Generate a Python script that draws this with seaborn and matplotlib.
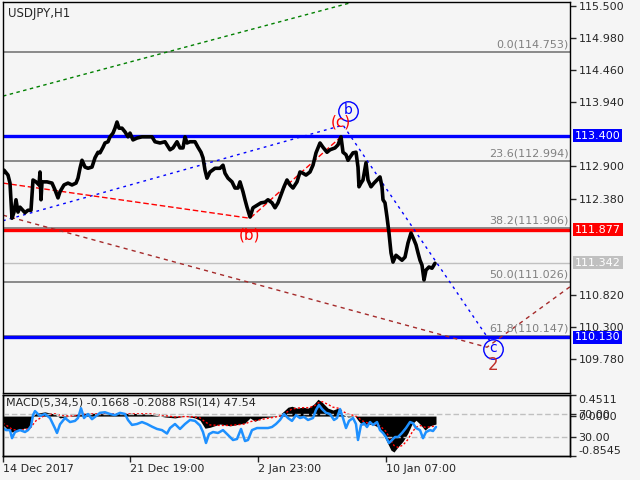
import numpy as np
import pandas as pd
import seaborn as sns
import matplotlib.pyplot as plt
from matplotlib import transforms

sns.set_style("white", {"axes.facecolor": "#f5f5f5", "figure.facecolor": "#f5f5f5",
                        "axes.edgecolor": "black"})
plt.rcParams['font.family'] = ['DejaVu Sans']

# price path (bar number, price)
price_bar = [3, 4, 8, 10, 12, 14, 16, 18, 20, 25, 28, 31, 33, 36, 39, 40, 41, 42, 47, 52,
             55, 58, 60, 64, 68, 72, 76, 78, 80, 82, 85, 88, 92, 95, 98, 100, 103, 105, 108, 110,
             113, 115, 117, 119, 122, 125, 128, 130, 133, 137, 142, 147, 152, 155, 160, 165, 170, 173, 177, 180,
             183, 185, 187, 190, 195, 198, 201, 203, 205, 207, 210, 215, 220, 223, 225, 228, 232, 235, 238, 240,
             243, 245, 247, 250, 253, 257, 261, 265, 268, 272, 275, 278, 281, 284, 287, 290, 293, 297, 300, 303,
             306, 310, 313, 316, 320, 323, 327, 330, 335, 338, 341, 343, 346, 348, 350, 353, 356, 358, 359, 361,
             363, 366, 368, 371, 374, 377, 380, 382, 383, 385, 387, 389, 391, 393, 396, 399, 402, 405, 408, 411,
             414, 416, 418, 420, 422, 424, 426, 429, 432, 435]
price = [112.79, 112.84, 112.76, 112.63, 112.06, 112.16, 112.36, 112.16, 112.24, 112.15, 112.19, 112.19, 112.68, 112.65, 112.60, 112.81, 112.36, 112.65, 112.65, 112.63,
         112.52, 112.39, 112.49, 112.60, 112.63, 112.60, 112.63, 112.71, 112.87, 113.00, 112.89, 112.87, 112.89, 113.04, 113.13, 113.12, 113.21, 113.28, 113.30, 113.38,
         113.44, 113.52, 113.62, 113.52, 113.52, 113.46, 113.38, 113.44, 113.33, 113.36, 113.38, 113.38, 113.38, 113.30, 113.28, 113.30, 113.17, 113.20, 113.30, 113.20,
         113.20, 113.38, 113.28, 113.30, 113.30, 113.21, 113.13, 113.04, 112.84, 112.71, 112.81, 112.87, 112.87, 112.92, 112.79, 112.71, 112.65, 112.55, 112.55, 112.65,
         112.49, 112.36, 112.24, 112.08, 112.23, 112.27, 112.31, 112.32, 112.36, 112.31, 112.23, 112.31, 112.44, 112.57, 112.68, 112.60, 112.55, 112.65, 112.81, 112.79,
         112.76, 112.81, 112.92, 113.12, 113.28, 113.21, 113.13, 113.17, 113.20, 113.25, 113.38, 113.13, 113.09, 113.00, 113.05, 113.12, 113.13, 112.89, 112.57, 112.63,
         112.68, 112.96, 112.68, 112.57, 112.63, 112.68, 112.73, 112.57, 112.36, 112.31, 112.08, 111.82, 111.50, 111.35, 111.46, 111.42, 111.38, 111.43, 111.66, 111.82,
         111.71, 111.63, 111.50, 111.38, 111.30, 111.06, 111.22, 111.27, 111.25, 111.33]

# drawn objects
green_bar = [3, 350]
green_px = [114.04, 115.55]
blue_bar = [3, 343, 490]
blue_px = [112.02, 113.57, 110.07]
red_bar = [3, 250, 341]
red_px = [112.63, 112.06, 113.38]
brown_bar = [3, 487, 570]
brown_px = [112.11, 109.97, 110.95]

fib_levels = [114.753, 112.994, 111.906, 111.026, 110.147]
fib_labels = ["0.0(114.753)", "23.6(112.994)", "38.2(111.906)", "50.0(111.026)", "61.8(110.147)"]
level_vals = [113.400, 111.877, 110.130]
level_cols = ["#0000ff", "#ff0000", "#0000ff"]
bid = 111.342
price_ticks = [115.5, 114.98, 114.46, 113.94, 112.9, 112.38, 110.82, 110.3, 109.78]

# MACD(5,34,5) histogram + signal and RSI(14)
macd_bar = [3, 8, 12, 18, 24, 28, 31, 33, 36, 45, 55, 60, 70, 80, 95, 110, 130, 150, 165, 175,
            185, 195, 200, 205, 210, 220, 230, 240, 245, 250, 255, 262, 270, 278, 283, 288, 292, 297, 303, 308,
            314, 318, 322, 328, 333, 338, 342, 348, 355, 358, 362, 368, 374, 380, 386, 391, 394, 398, 403, 408,
            412, 416, 420, 425, 430, 436]
macd = [-0.19, -0.30, -0.34, -0.30, -0.26, -0.26, -0.17, 0.0, 0.06, 0.09, 0.04, -0.04, 0.0, 0.06, 0.06, 0.04, 0.06, 0.04, -0.02, -0.04,
        0.0, -0.04, -0.09, -0.26, -0.24, -0.17, -0.21, -0.17, -0.15, -0.04, -0.11, -0.04, -0.02, 0.0, 0.09, 0.19, 0.21, 0.17, 0.19, 0.17,
        0.26, 0.36, 0.30, 0.17, 0.13, 0.17, 0.04, -0.02, 0.0, -0.09, -0.19, -0.17, -0.19, -0.26, -0.51, -0.73, -0.77, -0.66, -0.54, -0.36,
        -0.17, -0.09, -0.17, -0.30, -0.21, -0.17]
signal = [-0.15, -0.22, -0.28, -0.31, -0.29, -0.27, -0.24, -0.18, -0.10, 0.02, 0.05, 0.02, 0.0, 0.03, 0.05, 0.05, 0.05, 0.05, 0.01, -0.02,
          -0.01, -0.02, -0.04, -0.12, -0.19, -0.20, -0.20, -0.18, -0.17, -0.12, -0.10, -0.07, -0.04, -0.01, 0.03, 0.10, 0.15, 0.17, 0.18, 0.18,
          0.21, 0.28, 0.31, 0.25, 0.19, 0.17, 0.11, 0.04, 0.01, -0.03, -0.10, -0.15, -0.17, -0.21, -0.33, -0.52, -0.63, -0.67, -0.62, -0.50,
          -0.35, -0.24, -0.20, -0.24, -0.23, -0.21]
rsi_bar = [3, 6, 10, 12, 15, 20, 25, 28, 31, 33, 35, 40, 45, 50, 55, 57, 60, 65, 70, 75,
           78, 81, 84, 88, 92, 95, 100, 105, 110, 115, 120, 125, 128, 132, 137, 142, 147, 152, 157, 162,
           167, 170, 175, 180, 185, 190, 195, 200, 203, 206, 209, 213, 218, 223, 228, 233, 237, 241, 245, 248,
           252, 257, 262, 268, 272, 276, 280, 284, 288, 292, 296, 300, 304, 308, 313, 316, 319, 322, 326, 330,
           334, 337, 340, 343, 346, 349, 353, 356, 358, 361, 364, 367, 370, 373, 377, 380, 383, 386, 389, 392,
           395, 398, 402, 406, 410, 413, 416, 420, 423, 426, 430, 433, 436]
rsi = [45.6, 42, 42, 28, 38.7, 42, 38.7, 42, 49, 68, 75, 66.5, 70, 63, 45, 37, 52, 63, 56, 58,
       63, 80, 63, 70, 61, 65, 72, 73, 70, 68, 72, 70, 59.6, 51, 52.6, 56, 52.6, 48, 44, 42,
       36, 45.6, 52.6, 44, 52.6, 59.6, 58, 50, 38.7, 19.6, 35, 38.7, 37, 42, 33.5, 24.8, 26.5, 44, 23, 24.8,
       42, 45.6, 45.6, 45.6, 47.4, 52.6, 59.6, 70, 63, 58, 68, 63, 65, 59.6, 63, 77, 85.7, 78.7, 72, 70,
       59.6, 63, 78.7, 63, 45.6, 58, 63, 52.6, 24.8, 51, 54, 47.4, 56, 51, 56, 42, 37, 30, 19.6, 24.8,
       30, 30, 37, 45.6, 56, 54, 45.6, 42, 28, 38.7, 42, 40.4, 47.5]

time_ticks = [3, 130, 258, 386]
time_labels = ["14 Dec 2017", "21 Dec 19:00", "2 Jan 23:00", "10 Jan 07:00"]

fig = plt.figure(figsize=(6.4, 4.8), dpi=100)
ax = fig.add_axes([3 / 640, 87 / 480, 567 / 640, 391 / 480])
axm = fig.add_axes([3 / 640, 24 / 480, 567 / 640, 61 / 480], sharex=ax)

# ---- main chart
ax.set_xlim(3, 570)
ax.set_ylim(109.228, 115.565)
trans = transforms.blended_transform_factory(ax.transAxes, ax.transData)

for lv, lab in zip(fib_levels, fib_labels):
    ax.axhline(lv, color="#787878", lw=1.2, zorder=1)
    ax.text(0.997, lv + 0.04, lab, transform=trans, ha="right", va="bottom",
            color="#808080", fontsize=8)
ax.axhline(bid, color="#c0c0c0", lw=1, zorder=1)
for lv, col in zip(level_vals, level_cols):
    ax.axhline(lv, color=col, lw=2.4, zorder=2)

sns.lineplot(x=green_bar, y=green_px, ax=ax, color="#008000", lw=1, linestyle=(0, (2.5, 2.5)))
sns.lineplot(x=blue_bar, y=blue_px, ax=ax, color="#0000ff", lw=1, linestyle=(0, (2, 3)), sort=False)
sns.lineplot(x=red_bar, y=red_px, ax=ax, color="#ff0000", lw=1, linestyle=(0, (4, 2)), sort=False)
sns.lineplot(x=brown_bar, y=brown_px, ax=ax, color="#a52a2a", lw=1, linestyle=(0, (3, 3)), sort=False)
sns.lineplot(x=price_bar, y=price, ax=ax, color="black", lw=2.6, zorder=3)

# wave labels
ax.text(250, 111.79, "(b)", color="red", fontsize=11, ha="center", va="center")
ax.text(341, 113.62, "(c)", color="red", fontsize=11, ha="center", va="center")
ax.plot([348], [113.80], marker="o", ms=14, mfc="none", mec="blue", mew=1)
ax.text(348, 113.82, "b", color="blue", fontsize=10, ha="center", va="center")
ax.plot([493], [109.94], marker="o", ms=14, mfc="none", mec="blue", mew=1)
ax.text(493, 109.95, "c", color="blue", fontsize=10, ha="center", va="center")
ax.text(493, 109.68, "2", color="#c0302a", fontsize=12, ha="center", va="center")

ax.text(0.009, 0.987, "USDJPY,H1", transform=ax.transAxes, ha="left", va="top", fontsize=8.5)

ax.yaxis.tick_right()
ax.set_yticks(price_ticks)
ax.set_yticklabels([f"{t:.3f}" for t in price_ticks])
ax.tick_params(axis="y", length=4, width=1, pad=2, labelsize=8, direction="out", right=True, left=False)
ax.tick_params(axis="x", bottom=False, labelbottom=False)
for lv, col in zip(level_vals + [bid], level_cols + ["#c0c0c0"]):
    ax.text(1.0088, lv, f"{lv:.3f}", transform=trans, color="white", fontsize=8, ha="left", va="center",
            bbox=dict(boxstyle="square,pad=0.15", fc=col, ec="none"))
ax.set_xlabel("")
ax.set_ylabel("")
for s in ax.spines.values():
    s.set_color("black")
    s.set_linewidth(1)

# ---- MACD / RSI window
axm.set_ylim(-0.8545, 0.4511)
axm.fill_between(macd_bar, macd, 0, color="black", lw=0)
sns.lineplot(x=macd_bar, y=signal, ax=axm, color="red", lw=1, linestyle=(0, (1.5, 1.5)))
axr = axm.twinx()
axr.set_ylim(-3, 103)
axr.axhline(70, color="#c0c0c0", lw=1, ls=(0, (4, 2)))
axr.axhline(30, color="#c0c0c0", lw=1, ls=(0, (4, 2)))
sns.lineplot(x=rsi_bar, y=rsi, ax=axr, color="#1e90ff", lw=1.8)
axm.text(0.005, 0.96, "MACD(5,34,5) -0.1668 -0.2088 RSI(14) 47.54", transform=axm.transAxes,
         ha="left", va="top", fontsize=8)

axm.yaxis.tick_right()
axm.set_yticks([0.4511, 0.0, -0.8545])
axm.set_yticklabels(["0.4511", "0.0000", "-0.8545"])
mlabs = axm.get_yticklabels()
mlabs[0].set_va("top")
mlabs[2].set_va("bottom")
axm.tick_params(axis="y", length=4, width=1, pad=2, labelsize=8, right=True, left=False)
axr.set_yticks([70, 30])
axr.set_yticklabels(["70.00", "30.00"])
axr.tick_params(axis="y", length=4, width=1, pad=2, labelsize=8)
axm.set_xticks(time_ticks)
axm.set_xticklabels(time_labels, ha="left")
axm.tick_params(axis="x", length=4, width=1, pad=2, labelsize=8, bottom=True)
axm.set_xlim(3, 570)
for a in (axm, axr):
    a.set_xlabel("")
    a.set_ylabel("")
    for s in a.spines.values():
        s.set_color("black")
        s.set_linewidth(1)

fig.savefig("out.png", dpi=100, facecolor=fig.get_facecolor())
